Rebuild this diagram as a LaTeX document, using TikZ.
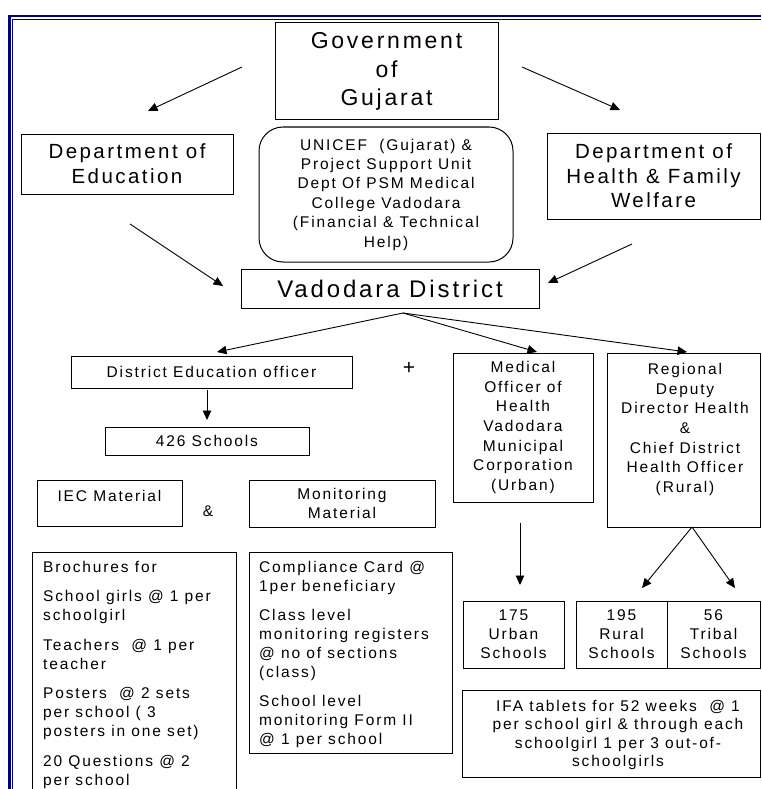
\documentclass[tikz,border=0pt]{standalone}
\usepackage{fontspec}
\setmainfont{Liberation Sans}[LetterSpace=12]
\usetikzlibrary{arrows.meta}
\definecolor{navyb}{RGB}{0,0,128}
\begin{document}
\begin{tikzpicture}[x=1pt,y=-1pt,
  box/.style={draw=black, line width=1pt, inner sep=0pt, align=center},
  txt/.style={inner sep=0pt},
  fbig/.style={font=\fontsize{23}{28.5}\selectfont},
  fdept/.style={font=\fontsize{20.5}{25}\selectfont},
  fvad/.style={font=\fontsize{24}{28}\selectfont},
  fsm/.style={font=\fontsize{15.5}{19.4}\selectfont},
  arr/.style={line width=0.9pt, -{Triangle[length=9.5pt,width=8.5pt]}}]
\useasboundingbox (0,0) rectangle (761,789);
% frame
\draw[navyb, line width=2.6pt] (9.6,789) -- (9.6,16.2) -- (761,16.2);
\draw[navyb, line width=0.9pt] (12.6,789) -- (12.6,19.2) -- (761,19.2);
% top level
\node[box, fbig, minimum width=223pt, minimum height=97pt] (gov) at (386.5,71.5) {Government\\of\\Gujarat};
\node[box, fdept, minimum width=212pt, minimum height=60pt] (dedu) at (127,164) {Department of\\Education};
\node[box, fsm, rounded corners=24pt, minimum width=254pt, minimum height=135pt] (unicef) at (386,194.5)
  {UNICEF\ \ (Gujarat) \&\\Project Support Unit\\Dept Of PSM Medical\\College Vadodara\\(Financial \& Technical\\Help)};
\node[box, fdept, font=\fontsize{20.5}{24.5}\selectfont, minimum width=213pt, minimum height=86pt] (dhealth) at (653.5,176) {Department of\\Health \& Family\\Welfare};
\node[box, fvad, minimum width=298pt, minimum height=39pt] (vad) at (390,288.5) {Vadodara District};
% second level
\node[box, fsm, minimum width=281pt, minimum height=32pt] (deo) at (211.5,372) {District Education officer};
\node[txt, font=\fontsize{21}{24}\selectfont] (plus) at (409,368) {+};
\node[box, fsm, minimum width=204pt, minimum height=28pt] (s426) at (207,441) {426 Schools};
\node[box, fsm, font=\fontsize{15.5}{19.7}\selectfont, minimum width=140pt, minimum height=149pt] (med) at (523,427.5)
  {Medical\\Officer of\\Health\\Vadodara\\Municipal\\Corporation\\(Urban)};
\node[box, minimum width=153pt, minimum height=174pt] (reg) at (683.5,440) {};
\node[txt, fsm, align=center, font=\fontsize{15.5}{19.7}\selectfont] (regt) at (685,429.5)
  {Regional\\Deputy\\Director Health\\\&\\Chief District\\Health Officer\\(Rural)};
% materials
\node[box, minimum width=145pt, minimum height=46pt] (iec) at (109.5,503) {};
\node[txt, fsm] (iect) at (109.5,496) {IEC Material};
\node[txt, fsm] (amp) at (208,511) {\&};
\node[box, fsm, minimum width=186pt, minimum height=47pt] (mon) at (342,503.5) {Monitoring\\Material};
\node[box, minimum width=204pt, minimum height=260pt] (broch) at (134,682) {};
\node[txt, fsm, align=left, anchor=west, font=\fontsize{15.5}{19}\selectfont] (brocht) at (43,674.5)
  {Brochures for\\[10.5pt]School girls @ 1 per\\schoolgirl\\[10.5pt]Teachers\ \ @ 1 per\\teacher\\[10.5pt]Posters\ \ @ 2 sets\\per school ( 3\\posters in one set)\\[10.5pt]20 Questions @ 2\\per school};
\node[box, minimum width=203pt, minimum height=201pt] (comp) at (350.5,652.5) {};
\node[txt, fsm, align=left, anchor=west, font=\fontsize{15.5}{19}\selectfont] (compt) at (259,654.5)
  {Compliance Card @\\1per beneficiary\\[10pt]Class level\\monitoring registers\\@ no of sections\\(class)\\[10pt]School level\\monitoring Form II\\@ 1 per school};
% schools
\node[box, fsm, font=\fontsize{15.5}{19}\selectfont, minimum width=101pt, minimum height=67pt] (urban) at (513.5,634.5) {175\\Urban\\Schools};
\node[box, fsm, font=\fontsize{15.5}{19}\selectfont, minimum width=91pt, minimum height=67pt] (rural) at (621.5,634.5) {195\\Rural\\Schools};
\node[box, fsm, font=\fontsize{15.5}{19}\selectfont, minimum width=93pt, minimum height=67pt] (tribal) at (713.5,634.5) {56\\Tribal\\Schools};
\node[box, minimum width=298pt, minimum height=87pt] (ifa) at (611,733.5) {};
\node[txt, fsm, align=center, font=\fontsize{15.5}{18.5}\selectfont] (ifat) at (618,735)
  {IFA tablets for 52 weeks\ \ @ 1\\per school girl \& through each\\schoolgirl 1 per 3 out-of-\\schoolgirls};
% connector end points
\coordinate (g1s) at (242,67); \coordinate (g1e) at (148,111);
\coordinate (g2s) at (522,67); \coordinate (g2e) at (620,110);
\coordinate (e1s) at (130,224); \coordinate (e1e) at (223,286);
\coordinate (h1s) at (632,244); \coordinate (h1e) at (548,283);
\coordinate (vs) at (403,313);
\coordinate (d1e) at (217,352); \coordinate (d2e) at (537,352); \coordinate (d3e) at (687,352);
\coordinate (ds) at (207,390); \coordinate (de) at (207,420);
\coordinate (ms) at (520,523); \coordinate (me) at (520,585);
\coordinate (rs) at (692,527); \coordinate (re1) at (642,588); \coordinate (re2) at (735,588);
% connectors
\draw[arr] (g1s) -- (g1e);
\draw[arr] (g2s) -- (g2e);
\draw[arr] (e1s) -- (e1e);
\draw[arr] (h1s) -- (h1e);
\draw[arr] (vs) -- (d1e);
\draw[arr] (vs) -- (d2e);
\draw[arr] (vs) -- (d3e);
\draw[arr] (ds) -- (de);
\draw[arr] (ms) -- (me);
\draw[arr] (rs) -- (re1);
\draw[arr] (rs) -- (re2);
\end{tikzpicture}
\end{document}
